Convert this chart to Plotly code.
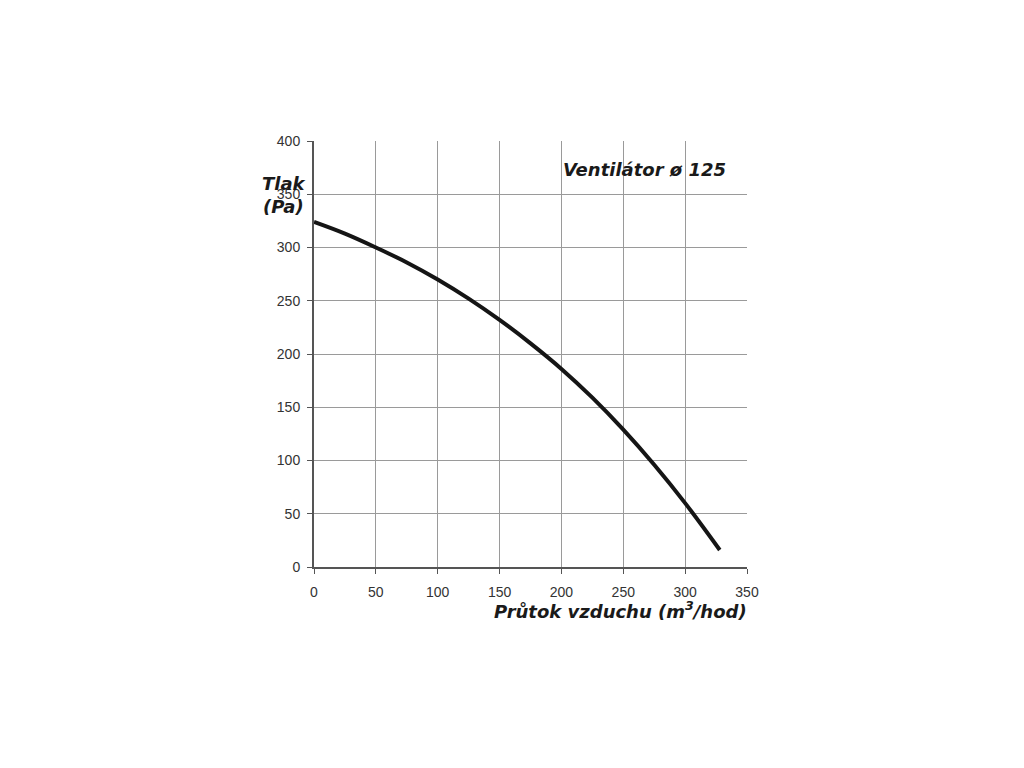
import plotly.graph_objects as go

flow = [0, 25, 50, 75, 100, 125, 150, 175, 200, 225, 250, 275, 300, 328]
pressure = [324, 313, 300, 286, 270, 252, 232, 210, 186, 159, 129, 96, 60, 16]
x_ticks = [0, 50, 100, 150, 200, 250, 300, 350]
y_ticks = [0, 50, 100, 150, 200, 250, 300, 350, 400]

fig = go.Figure()
fig.add_trace(go.Scatter(x=flow, y=pressure, mode="lines",
                         line=dict(color="#151515", width=4, shape="spline", smoothing=1.0),
                         hoverinfo="skip", showlegend=False))

tickfont = dict(family="Liberation Sans, Arial, sans-serif", size=14, color="#333333")
fig.update_xaxes(range=[0, 350], tickvals=x_ticks, showgrid=True, gridcolor="#9a9a9a", gridwidth=1,
                 showline=True, linecolor="#555555", linewidth=2, ticks="outside", ticklen=5,
                 tickcolor="#555555", tickfont=tickfont, zeroline=False,
                 ticklabelstandoff=6)
fig.update_yaxes(range=[0, 400], tickvals=y_ticks, showgrid=True, gridcolor="#9a9a9a", gridwidth=1,
                 showline=True, linecolor="#555555", linewidth=2, ticks="outside", ticklen=5,
                 tickcolor="#555555", tickfont=tickfont, zeroline=False, ticklabelstandoff=4)

labfont = dict(family="DejaVu Sans, sans-serif", size=18, color="#1a1a1a", weight="bold", style="italic")
fig.add_annotation(x=0.764, y=0.932, xref="paper", yref="paper", text="Ventilátor ø 125",
                   showarrow=False, font=labfont, xanchor="center", yanchor="middle")
fig.add_annotation(x=-0.069, y=0.873, xref="paper", yref="paper", text="Tlak<br>(Pa)", showarrow=False,
                   font=dict(labfont, size=18), align="center", xanchor="center", yanchor="middle")
fig.add_annotation(x=0.707, y=-0.101, xref="paper", yref="paper",
                   text="Průtok vzduchu (m<sup>3</sup>/hod)", showarrow=False,
                   font=dict(labfont, size=18), xanchor="center", yanchor="middle")

fig.update_layout(width=1024, height=768, margin=dict(l=306, r=285, t=133, b=209),
                  plot_bgcolor="white", paper_bgcolor="white")
fig.write_html("out.html")
